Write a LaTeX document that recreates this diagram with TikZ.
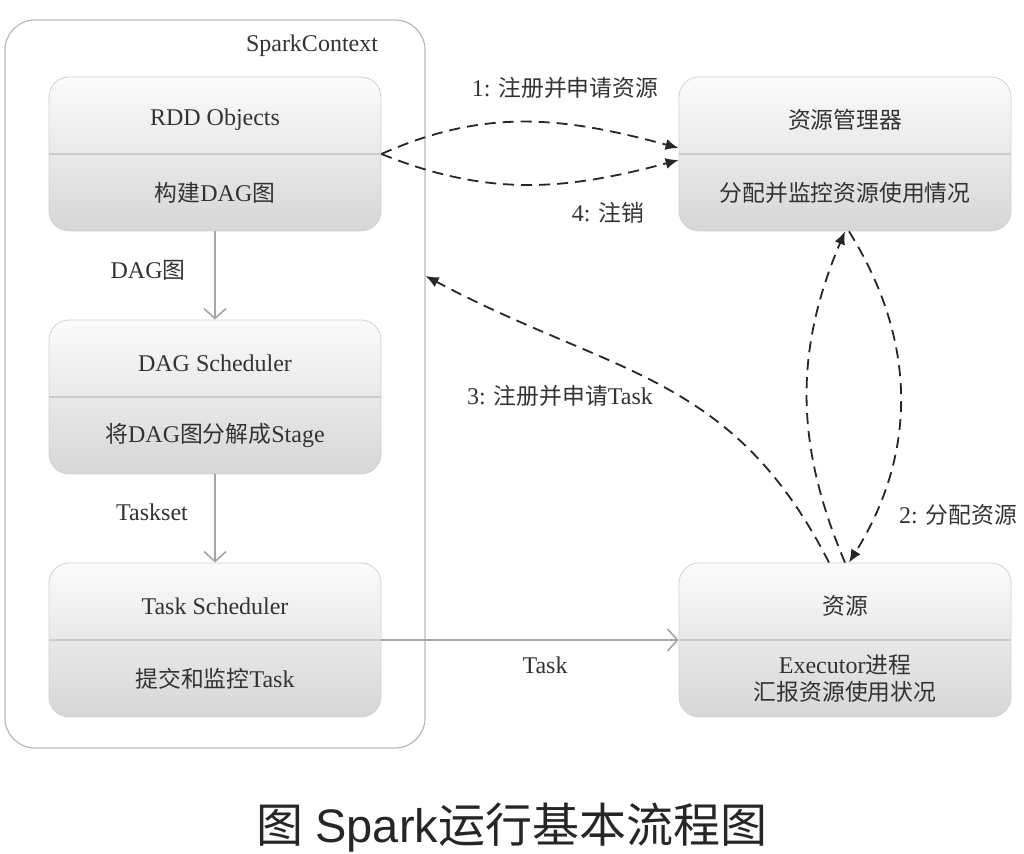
\documentclass[tikz,border=0pt]{standalone}
\usepackage{fontspec}
\setmainfont{Liberation Serif}
\newfontfamily\cjk[Scale=0.95]{Noto Sans CJK SC}
\newfontfamily\cjktitle{Noto Sans CJK SC}
\newfontfamily\titlelatin{Liberation Sans}
\newcommand{\zh}[1]{{\cjk #1}}
\usetikzlibrary{arrows.meta, positioning, calc}

\begin{document}
\begin{tikzpicture}[x=0.5pt, y=-0.5pt,
    stagebox/.style={draw=gray!35, rounded corners=10pt, top color=gray!3,
        bottom color=gray!32, minimum width=166pt, minimum height=77pt, inner sep=0pt},
    divider/.style={draw=gray!40, line width=0.6pt},
    boxtext/.style={text=black!80, font=\fontsize{12}{13.5}\selectfont, align=center, inner sep=1pt},
    edgetext/.style={text=black!80, font=\fontsize{12}{13.5}\selectfont, inner sep=1pt},
    flow/.style={draw=gray!70, line width=0.8pt, -{Straight Barb[length=5pt,width=11pt]}},
    dasharrow/.style={dash pattern=on 5.5pt off 3.5pt, line width=0.9pt, draw=black!85,
        -{Latex[length=6.5pt,width=5.5pt]}}]
    \useasboundingbox (0,0) rectangle (1024,854);

    % SparkContext frame
    \node[draw=gray!55, line width=0.6pt, rounded corners=15pt, fill=white,
        minimum width=210pt, minimum height=364pt] (ctx) at (215,384) {};
    \node[boxtext] (ctxname) at (312,46) {SparkContext};

    % left column
    \node[stagebox] (rdd) at (215,154) {};
    \draw[divider] (rdd.west) -- (rdd.east);
    \node[boxtext] (rddtop) at ([yshift=17pt]rdd.center) {RDD Objects};
    \node[boxtext] (rddbot) at ([yshift=-19.5pt]rdd.center) {\zh{构建}DAG\zh{图}};

    \node[stagebox] (dag) at (215,397) {};
    \draw[divider] (dag.west) -- (dag.east);
    \node[boxtext] (dagtop) at ([yshift=17pt]dag.center) {DAG Scheduler};
    \node[boxtext] (dagbot) at ([yshift=-19.5pt]dag.center) {\zh{将}DAG\zh{图分解成}Stage};

    \node[stagebox] (task) at (215,640) {};
    \draw[divider] (task.west) -- (task.east);
    \node[boxtext] (tasktop) at ([yshift=17pt]task.center) {Task Scheduler};
    \node[boxtext] (taskbot) at ([yshift=-19.5pt]task.center) {\zh{提交和监控}Task};

    % right column
    \node[stagebox] (mgr) at (845,154) {};
    \draw[divider] (mgr.west) -- (mgr.east);
    \node[boxtext] (mgrtop) at ([yshift=17pt]mgr.center) {\zh{资源管理器}};
    \node[boxtext] (mgrbot) at ([yshift=-19.5pt]mgr.center) {\zh{分配并监控资源使用情况}};

    \node[stagebox] (res) at (845,640) {};
    \draw[divider] (res.west) -- (res.east);
    \node[boxtext] (restop) at ([yshift=17pt]res.center) {\zh{资源}};
    \node[boxtext] (resbot) at ([yshift=-19.5pt]res.center) {Executor\zh{进程}\\\zh{汇报资源使用状况}};

    % solid flows
    \draw[flow] (rdd.south) -- (dag.north);
    \draw[flow] (dag.south) -- (task.north);
    \draw[flow] (task.east) -- (res.west);
    \node[edgetext] (lbldag) at (148,270) {DAG\zh{图}};
    \node[edgetext] (lblset) at (152,512) {Taskset};
    \node[edgetext] (lbltask) at (545,665) {Task};

    % dashed messages
    \draw[dasharrow] (rdd.east) to[out=24,in=165] ([yshift=3pt]mgr.west);
    \draw[dasharrow] (rdd.east) to[out=-22,in=-165] ([yshift=-3pt]mgr.west);
    \draw[dasharrow] (res.north) to[out=113,in=-113] (mgr.south);
    \draw[dasharrow] ([xshift=2pt]mgr.south) to[out=-58,in=58] ([xshift=2pt]res.north);
    \draw[dasharrow] ([xshift=-8pt]res.north) to[out=117,in=-28,looseness=1.1] ([yshift=54pt]ctx.east);
    \node[edgetext] (lblreg) at (565,88) {1: \zh{注册并申请资源}};
    \node[edgetext] (lblout) at (608,213) {4: \zh{注销}};
    \node[edgetext] (lblreq) at (560,396) {3: \zh{注册并申请}Task};
    \node[edgetext] (lblgive) at (958,515) {2: \zh{分配资源}};

    % caption
    \node[font=\fontsize{23.5}{26}\selectfont, text=black!85] (title) at (512,828)
        {{\cjktitle 图} {\titlelatin Spark}{\cjktitle 运行基本流程图}};
\end{tikzpicture}
\end{document}
